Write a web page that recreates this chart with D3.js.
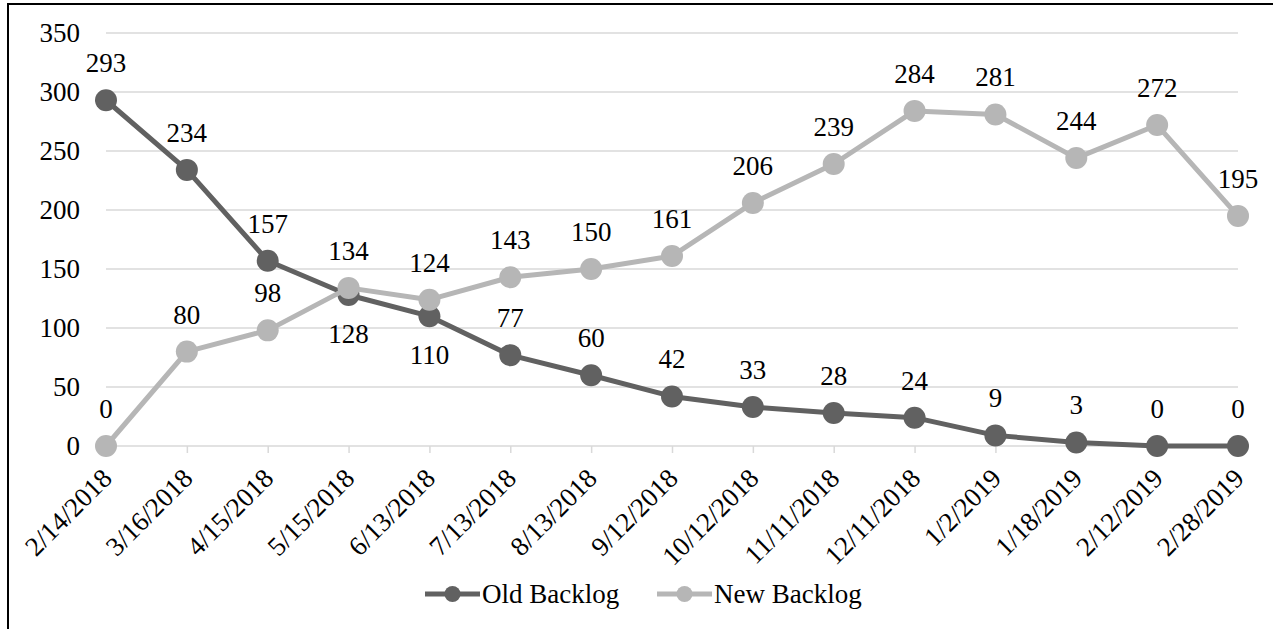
<!DOCTYPE html>
<html>
<head>
<meta charset="UTF-8">
<script src="https://d3js.org/d3.v7.min.js"></script>
<style>
  * { margin: 0; padding: 0; }
  body { background: #fff; }
  svg text { font-family: "Liberation Serif", "DejaVu Serif", serif; }
</style>
</head>
<body>
<div id="chart"></div>
<script>
const dates = ["2/14/2018","3/16/2018","4/15/2018","5/15/2018","6/13/2018","7/13/2018","8/13/2018",
               "9/12/2018","10/12/2018","11/11/2018","12/11/2018","1/2/2019","1/18/2019","2/12/2019","2/28/2019"];
const oldBacklog = [293,234,157,128,110,77,60,42,33,28,24,9,3,0,0];
const newBacklog = [0,80,98,134,124,143,150,161,206,239,284,281,244,272,195];
const yTicks = [0,50,100,150,200,250,300,350];
// labels drawn under the point instead of above
const oldBelow = ["5/15/2018","6/13/2018"];

const W = 1273, H = 629;
const margin = {left: 106, right: 35, top: 33, bottom: 183};
const fontSize = 27;

const series = [
  {name: "Old Backlog", values: oldBacklog, color: "#616161", below: oldBelow},
  {name: "New Backlog", values: newBacklog, color: "#b6b6b6", below: []}
];

const svg = d3.select("#chart").append("svg")
  .attr("width", W).attr("height", H);

// outer frame (runs off the right and bottom of the picture)
svg.append("rect")
  .attr("x", 8).attr("y", 4)
  .attr("width", W + 20).attr("height", H + 20)
  .attr("fill", "none").attr("stroke", "#000").attr("stroke-width", 2);

const x = d3.scalePoint().domain(dates).range([margin.left, W - margin.right]);
const y = d3.scaleLinear().domain([0, 350]).range([H - margin.bottom, margin.top]);

// grid
svg.append("g")
  .selectAll("line").data(yTicks).join("line")
  .attr("x1", margin.left).attr("x2", W - margin.right)
  .attr("y1", d => y(d)).attr("y2", d => y(d))
  .attr("stroke", "#d9d9d9").attr("stroke-width", 1.5);

// y axis labels
svg.append("g")
  .selectAll("text").data(yTicks).join("text")
  .attr("x", 80).attr("y", d => y(d)).attr("dy", "0.35em")
  .attr("text-anchor", "end").attr("font-size", fontSize).attr("fill", "#000")
  .text(d => d);

// x axis ticks
const xAxis = svg.append("g")
  .attr("transform", `translate(0,${y(0)})`)
  .call(d3.axisBottom(x).tickSize(7).tickSizeOuter(0).tickPadding(0));
xAxis.attr("font-family", null);
xAxis.select(".domain").remove();
xAxis.selectAll("line").attr("stroke", "#d9d9d9").attr("stroke-width", 1.5);
xAxis.selectAll("text")
  .attr("font-size", fontSize)
  .attr("fill", "#000")
  .attr("text-anchor", "end")
  .attr("dy", null)
  .attr("transform", "translate(2,29) rotate(-45)");

const line = d3.line().x((d, i) => x(dates[i])).y(d => y(d));

series.forEach(s => {
  const g = svg.append("g");
  g.append("path").datum(s.values)
    .attr("d", line).attr("fill", "none")
    .attr("stroke", s.color).attr("stroke-width", 5).attr("stroke-linejoin", "round");
  g.selectAll("circle").data(s.values).join("circle")
    .attr("cx", (d, i) => x(dates[i])).attr("cy", d => y(d))
    .attr("r", 11).attr("fill", s.color);
});

// data labels on top of everything
series.forEach(s => {
  svg.append("g").selectAll("text").data(s.values).join("text")
    .attr("x", (d, i) => x(dates[i]))
    .attr("y", (d, i) => s.below.includes(dates[i]) ? y(d) + 48 : y(d) - 28)
    .attr("text-anchor", "middle").attr("font-size", fontSize).attr("fill", "#000")
    .text(d => d);
});

// legend
const legend = svg.append("g").attr("transform", "translate(0,594)");
const legendItems = [{s: series[0], x0: 425}, {s: series[1], x0: 657}];
legendItems.forEach(({s, x0}) => {
  legend.append("line").attr("x1", x0).attr("x2", x0 + 55)
    .attr("y1", 0).attr("y2", 0)
    .attr("stroke", s.color).attr("stroke-width", 5);
  legend.append("circle").attr("cx", x0 + 27.5).attr("cy", 0).attr("r", 8).attr("fill", s.color);
  legend.append("text").attr("x", x0 + 57).attr("y", 0).attr("dy", "0.32em")
    .attr("font-size", fontSize).attr("fill", "#000").text(s.name);
});
</script>
</body>
</html>
